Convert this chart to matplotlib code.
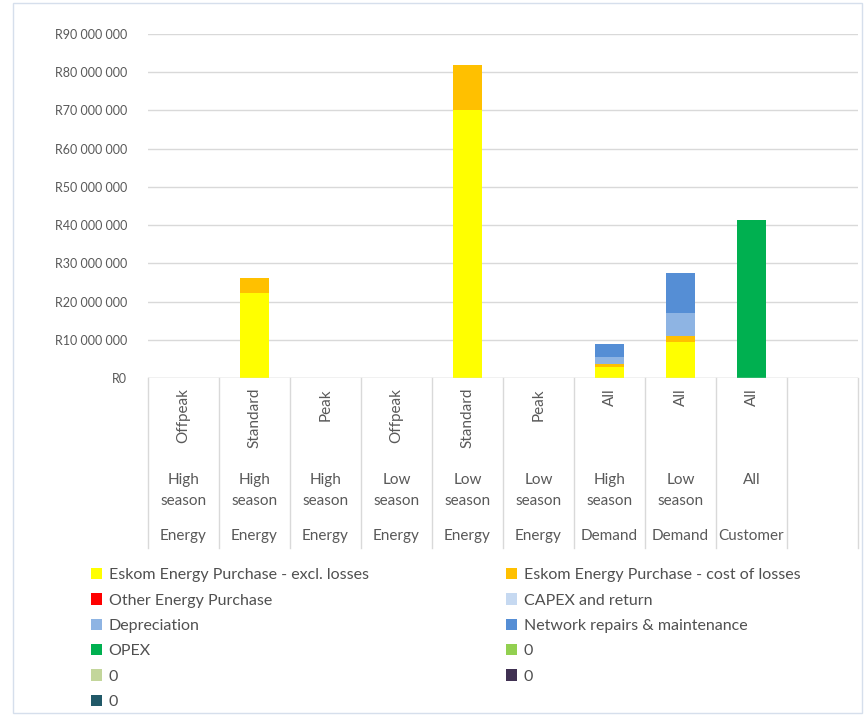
import matplotlib
matplotlib.use("Agg")
import matplotlib.pyplot as plt
import numpy as np
from matplotlib.patches import Rectangle, Patch
from matplotlib.ticker import FuncFormatter
import matplotlib.transforms as mtrans

plt.rcParams['font.family'] = ['Lato', 'DejaVu Sans']

# ---- data ----
level1 = ["Offpeak", "Standard", "Peak", "Offpeak", "Standard", "Peak", "All", "All", "All", ""]
level2 = ["High\nseason", "High\nseason", "High\nseason", "Low\nseason", "Low\nseason", "Low\nseason",
          "High\nseason", "Low\nseason", "All", ""]
level3 = ["Energy", "Energy", "Energy", "Energy", "Energy", "Energy", "Demand", "Demand", "Customer", ""]

series_names = ["Eskom Energy Purchase - excl. losses", "Eskom Energy Purchase - cost of losses",
                "Other Energy Purchase", "CAPEX and return", "Depreciation",
                "Network repairs & maintenance", "OPEX", "0", "0", "0", "0"]
series_colors = ["#FFFF00", "#FFC000", "#FF0000", "#C6D9F1", "#8EB4E3",
                 "#558ED5", "#00B050", "#92D050", "#C3D69B", "#403152", "#215968"]

eskom_excl   = [0, 22300000, 0, 0, 70000000, 0, 3000000, 9500000, 0, 0]
eskom_losses = [0, 3800000, 0, 0, 11900000, 0, 700000, 1600000, 0, 0]
other_energy = [0, 0, 0, 0, 0, 0, 0, 0, 0, 0]
capex_return = [0, 0, 0, 0, 0, 0, 0, 0, 0, 0]
depreciation = [0, 0, 0, 0, 0, 0, 1900000, 6000000, 0, 0]
network_rm   = [0, 0, 0, 0, 0, 0, 3200000, 10300000, 0, 0]
opex         = [0, 0, 0, 0, 0, 0, 0, 0, 41300000, 0]
zero_a       = [0] * 10
zero_b       = [0] * 10
zero_c       = [0] * 10
zero_d       = [0] * 10

series_values = [eskom_excl, eskom_losses, other_energy, capex_return, depreciation,
                 network_rm, opex, zero_a, zero_b, zero_c, zero_d]

yticks = np.arange(0, 90000001, 10000000)

# ---- figure ----
W, H = 866, 715
fig = plt.figure(figsize=(W / 100, H / 100), dpi=100)
fig.patches.append(Rectangle((13 / W, 1 - 713 / H), (862 - 13) / W, (713 - 3) / H,
                             transform=fig.transFigure, fill=False, edgecolor="#D6DFEC", lw=1.0))

ax = fig.add_axes([148 / W, 1 - 378 / H, (858 - 148) / W, (378 - 34) / H])
x = np.arange(len(level1))
bottom = np.zeros(len(level1))
handles = []
for name, col, vals in zip(series_names, series_colors, series_values):
    v = np.array(vals, dtype=float)
    ax.bar(x, v, width=0.41, bottom=bottom, color=col, edgecolor="none", zorder=3)
    bottom += v
    handles.append(Patch(facecolor=col, edgecolor="none", label=name))

ax.set_xlim(-0.5, len(level1) - 0.5)
ax.set_ylim(0, 90000000)
ax.set_yticks(yticks)
ax.yaxis.set_major_formatter(FuncFormatter(lambda v, p: "R" + f"{int(v):,}".replace(",", " ")))
ax.tick_params(axis="y", length=0, pad=15, labelsize=9, labelcolor="#595959")
ax.set_xticks([])
ax.grid(axis="y", color="#D9D9D9", lw=1.0, zorder=0)
for s in ax.spines.values():
    s.set_visible(False)
ax.axhline(0, color="#D9D9D9", lw=1.0, zorder=4)

# multi-level category axis
trans = mtrans.blended_transform_factory(ax.transData, fig.transFigure)
def fy(py):
    return 1 - py / H
for b in np.arange(-0.5, len(level1), 1.0):
    ax.plot([b, b], [fy(378), fy(548)], transform=trans, color="#D9D9D9", lw=1.0, clip_on=False)
for i in range(len(level1)):
    ax.text(i, fy(388), level1[i], transform=trans, rotation=90, ha="center", va="top",
            fontsize=11, color="#595959")
    ax.text(i, fy(473), level2[i], transform=trans, ha="center", va="top",
            fontsize=11, color="#595959", linespacing=1.6)
    ax.text(i, fy(536), level3[i], transform=trans, ha="center", va="center",
            fontsize=11, color="#595959")

# legend (row-major, 2 columns)
col1 = handles[0::2]
col2 = handles[1::2]
leg_kw = dict(frameon=False, fontsize=11.5, labelcolor="#505050", handlelength=0.7,
              handleheight=0.7, handletextpad=0.4, labelspacing=0.7, borderpad=0, borderaxespad=0)
fig.legend(handles=col1, loc="upper left", bbox_to_anchor=(91 / W, 1 - 568 / H), **leg_kw)
fig.legend(handles=col2, loc="upper left", bbox_to_anchor=(506 / W, 1 - 568 / H), **leg_kw)

fig.savefig("out.png", dpi=100)
